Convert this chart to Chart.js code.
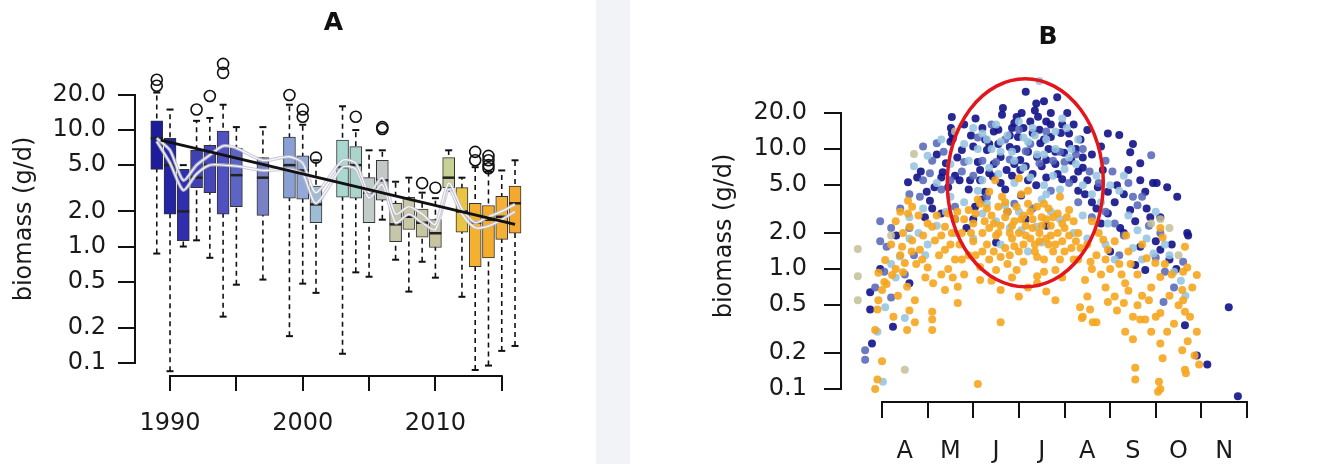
<!DOCTYPE html>
<html>
<head>
<meta charset="utf-8">
<script src="https://cdn.jsdelivr.net/npm/chart.js@4.4.1/dist/chart.umd.min.js"></script>
<style>
html,body{margin:0;padding:0;background:#fff;width:1339px;height:464px;overflow:hidden}
#band{position:absolute;left:596px;top:0;width:34px;height:464px;background:#f2f3f7}
#cA{position:absolute;left:0;top:0}
#cB{position:absolute;left:630px;top:0}
</style>
</head>
<body>
<div id="band"></div>
<canvas id="cA" width="596" height="464"></canvas>
<canvas id="cB" width="709" height="464"></canvas>
<script>
// ═══════════════════════════════════════════
// A: biomass per year (boxplots, log axis)
// ═══════════════════════════════════════════
const years=[1989,1990,1991,1992,1993,1994,1995,1997,1999,2000,2001,2003,2004,2005,2006,2007,2008,2009,2010,2011,2012,2013,2014,2015,2016];
const boxColors=['#1c1c9c','#2424a6','#2e2eae','#4040b6','#4646ba','#5050c0','#5c64c4','#7880c6','#8aa0d4','#94aad6','#9ebcd4','#a8d8d0','#acd4cc','#c0ccc8','#c4c8c4','#c6c6aa','#c8c8a4','#c6c6a2','#c8c4a0','#c8d094','#ecc444','#f4b030','#f4ac2c','#f4b038','#f4a830'];
const q3=[12.0,8.5,4.6,6.7,7.4,9.8,7.0,5.8,8.7,6.0,3.3,8.2,7.2,3.9,5.5,2.35,2.65,2.1,1.7,5.8,3.2,2.35,2.25,2.7,3.3];
const q1=[4.6,1.9,1.12,3.2,2.9,1.9,2.2,1.85,2.6,2.55,1.6,2.65,2.6,1.6,2.5,1.1,1.4,1.2,0.98,3.2,1.33,0.67,0.8,1.15,1.3];
const medians=[8.5,5.0,2.0,3.9,5.0,5.0,4.1,3.9,5.0,4.5,2.3,4.8,5.0,2.9,3.7,1.55,1.8,1.6,1.3,3.9,2.0,1.6,1.7,1.8,2.35];
const whiskHi=[21,15,5.0,12,12.7,16.5,10.6,10.6,16.5,11.1,5.5,16,10,6.7,6.7,3.6,3.9,2.9,2.6,6.7,3.9,4.8,4.4,4.5,5.5];
const whiskLo=[0.87,0.085,1.0,1.13,0.8,0.25,0.47,0.52,0.17,0.48,0.4,0.12,0.6,0.55,1.7,0.77,0.41,0.74,0.54,3.0,0.37,0.087,0.095,0.127,0.14];
const outYears=[1989,1989,1992,1993,1994,1994,1999,2000,2000,2001,2004,2006,2006,2009,2010,2013,2013,2014,2014,2014,2014];
const outVals=[27,24,15,19.6,37,31,20,15,13,5.8,13,10.6,10.2,3.5,3.2,6.5,5.5,6.0,5.5,5.0,4.7];
const smoothHi=[8.5,6.7,3.7,5.0,6.1,7.3,7.0,5.5,5.9,5.2,2.9,5.5,5.2,2.9,3.9,1.9,2.2,1.9,1.55,3.5,2.1,1.6,1.8,2.0,2.3];
const smoothLo=[8.0,5.2,3.05,4.2,5.0,5.0,4.9,4.5,4.6,4.2,2.35,4.8,4.6,2.6,3.4,1.6,1.9,1.6,1.4,3.1,1.9,1.45,1.5,1.7,2.0];
const trendYears=[1989.3,2016];
const trendVals=[8.2,1.55];
const yTickVals=[0.1,0.2,0.5,1,2,5,10,20];
const yTickText=['0.1','0.2','0.5','1.0','2.0','5.0','10.0','20.0'];
const yearTicks=[1990,1995,2000,2005,2010,2015];

// ═══════════════════════════════════════════
// B: biomass by month (points per year group)
// ═══════════════════════════════════════════
const monthTicks=[4,5,6,7,8,9,10,11,12];
const monthLetters=['A','M','J','J','A','S','O','N',''];
const navyPts=[[3.78,0.24],[3.74,0.64],[3.74,0.46],[3.96,1.0],[4.24,0.33],[4.31,1.9],[4.6,0.76],[4.57,5.3],[4.77,5.8],[4.98,4.4],[5.05,3.7],[5.2,9],[5.53,18.5],[5.51,15],[5.53,13.5],[5.5,11.5],[5.55,12.2],[5.75,9.8],[5.4,7.6],[5.33,6.4],[5.6,6.0],[5.1,3.2],[5.3,2.9],[5.6,2.6],[4.94,2.7],[5.45,4.8],[5.7,5.5],[5.9,4.6],[5.85,2.2],
 [6.26,12],[6.63,19.3],[6.85,15],[7.06,20],[7.38,24],[7.35,21],[7.84,27],[7.42,18.6],[6.9,16.5],[6.3,9.8],[6.6,8.6],[6.8,10.4],[6.98,12.6],[7.3,13.6],[7.47,11.2],[7.7,12.6],[7.92,13.6],[7.99,9.3],[7.6,8.1],[7.4,8.6],[7.03,8.1],[6.73,6.7],[6.15,6.7],[5.93,5.5],[6.15,5.5],[6.43,5.9],[7.38,5.0],[7.03,6.7],[6.0,2.6],[6.04,3.3],[6.26,4.4],[6.5,1.66],[8.06,20],[8.2,16],[7.6,17],[7.15,30],[7.55,25],[7.7,16],[6.45,14],[6.2,15],[6.0,10.5],[6.55,11],[6.95,10],[7.2,9.5],[7.5,7.2],[7.8,7.5],[8.1,11],[8.15,8],[8.3,6.5],[6.7,4.6],[7.2,5.5],[7.05,4.1],[6.1,7.8],[6.45,7.5],[6.9,7.5],[7.65,10],[7.85,6.2],
 [8.5,14.4],[8.95,13.5],[9.2,13.1],[9.44,9.4],[9.66,7.6],[9.4,6.7],[9.66,5.5],[9.94,5.2],[10.02,5.2],[10.25,4.8],[10.47,4.0],[9.77,4.4],[9.88,2.7],[9.66,1.53],[10.0,1.7],[9.77,0.98],[9.55,1.08],[9.22,2.2],[9.44,3.1],[10.69,2.0],[10.71,1.9],[10.64,0.34],[10.9,0.19],[11.13,0.16],[11.6,0.48],[11.8,0.087],[8.95,4.4],[8.73,4.8],[8.84,6.7],[8.6,9],[8.4,7],[8.5,5.5],[8.3,4.5],[8.7,3.2],[9.1,3.6],[9.3,2.0],[9.0,1.4],[8.8,2.4],[10.1,1.45],[10.3,1.2],[9.5,11],[8.8,10.5],
 [5.8,16],[5.65,8.5],[5.95,13],[6.05,18],[6.35,11],[6.55,14.5],[6.65,22],[6.8,13],[6.95,18.5],[7.1,15],[7.25,17],[7.45,14.5],[7.55,12],[7.7,20],[7.8,9.5],[7.95,16],[8.1,13.5],[8.25,10],[8.35,12],[8.4,8.5],[6.35,6.3],[6.6,5.2],[6.85,6],[7.15,7.2],[7.3,6.2],[7.6,5.8],[7.95,5.6],[8.2,5.6],[8.45,4.2],[8.6,3.6],[8.95,2.9],[9.15,5.0],[9.3,4.2],[9.55,2.5],[9.8,3.2],[10.1,2.7],[10.35,1.6],[10.45,1.0],[5.15,4.8],[5.3,5.8],[4.85,6.5],[6.2,3.8],[6.75,3.0],[7.15,2.6],[7.6,2.3]];
const midPts=[[3.63,0.21],[3.63,0.175],[3.96,2.5],[3.96,1.7],[4.1,1.53],[4.2,0.58],[5.2,11.2],[5.05,6.3],[4.83,4.0],[4.4,3.2],[4.6,2.2],[5.1,8],[4.9,10.5],[5.3,4.6],[5.6,3.3],[5.8,7.8],[6.1,12.5],[6.4,16],[6.7,12],[7.0,14.5],[7.25,11],[7.6,14],[7.9,9.5],[6.3,4.0],[6.9,3.5],[7.3,3.2],[7.7,4.5],[8.1,5.2],[8.3,3.6],[8.6,2.7],[8.9,3.0],[9.1,2.4],[9.3,1.9],[9.6,3.4],[9.85,2.3],[10.0,1.25],[10.17,0.53],[10.4,0.7],[9.9,8.9],[9.5,4.0],[8.4,10],[8.9,8],[6.2,8],[5.5,5.5],[4.7,1.3],[4.5,0.9],[3.85,0.7],[10.6,1.15],[10.2,0.95],[9.2,1.3],
 [5.35,9.5],[5.75,6.5],[6.0,6.0],[6.5,7.8],[6.8,8.2],[7.15,9.6],[7.45,7.6],[7.75,8],[8.0,7.8],[8.25,9],[8.55,6.5],[8.75,5.2],[9.05,6.5],[9.4,5.2],[9.7,4.0],[10.1,2.0],[4.9,5.5],[4.6,4.2],[4.2,2.2],[4.05,0.95]];
const lightPts=[[4.6,2.7],[4.39,1.27],[4.5,0.39],[4.02,0.115],[3.9,0.3],[4.07,0.48],[4.3,0.85],[4.8,2.0],[5.0,1.6],[4.9,3.2],[5.2,2.3],[5.4,3.0],[5.6,2.0],[5.8,3.6],[4.7,7.2],[5.0,8.8],[5.3,12],[5.8,11],[6.0,15],[6.2,13.5],[6.5,16],[6.75,13],[7.0,17],[7.3,15],[7.45,37],[7.6,12],[7.8,14],[7.95,18],[8.15,10],[6.35,7],[6.6,9.5],[6.9,8],[7.1,7],[7.4,9],[7.75,6],[8.0,6.8],[8.25,7.5],[6.2,2.9],[6.5,2.5],[6.8,2.2],[7.05,2.1],[7.38,2.25],[7.5,1.66],[7.7,3.0],[7.9,2.6],[6.0,1.8],[6.6,1.6],[7.2,1.4],[8.2,2.0],[8.4,2.8],[8.6,4.2],[8.8,3.6],[9.0,5.0],[9.2,4.5],[9.4,2.8],[9.6,2.1],[9.8,1.8],[10.0,3.0],[10.2,1.6],[10.4,0.95],[10.55,0.8],[10.65,0.6],[8.5,1.8],[8.9,1.6],[9.1,1.2],[9.7,1.2],[8.7,6],[9.3,6],[8.3,12],[5.5,7.5],[6.4,10],[7.2,11.5],[8.05,15],[6.1,4.5],[7.6,4.2],
 [5.9,8],[6.1,10],[6.3,12],[6.6,11.5],[6.85,9.5],[7.1,12.5],[7.35,13],[7.55,9],[7.8,10],[8.1,8.5],[8.4,5],[6.2,5.5],[6.55,6.2],[6.9,5.2],[7.25,5.8],[7.55,5.0],[7.9,4.6],[6.3,3.5],[6.7,3.4],[7.0,3.0],[7.5,3.8],[5.5,4.0],[5.2,5.2],[4.95,1.3],[4.6,1.8],[4.2,1.1],[9.5,1.5],[9.95,1.35],[10.3,1.3],[8.95,2.4]];
const khakiPts=[[3.47,1.47],[3.47,0.87],[3.47,0.55],[4.5,0.145],[4.7,9.1],[9.9,2.4],[10.1,2.6],[10.3,2.2],[4.2,1.9],[10.5,1.3],[5.6,14]];
const orangePts=[[3.85,0.1],[3.9,0.12],[4.0,0.17],[3.85,0.31],[3.9,0.46],[3.92,0.55],[4.0,0.67],[3.92,0.93],[4.07,1.19],[4.05,0.78],[4.22,0.89],[4.46,0.94],[4.55,0.71],[4.72,0.55],[4.72,0.36],[4.55,0.31],[5.1,0.44],[5.1,0.38],[5.1,0.31],[4.57,3.7],[4.66,3.3],[4.57,2.9],[4.61,2.25],[4.46,2.0],[4.66,1.73],[4.44,1.53],[4.5,1.12],[4.83,1.45],[4.88,1.2],[5.1,2.25],[5.16,1.73],[5.38,2.25],[5.38,1.45],[5.53,2.0],[5.6,1.2],[5.0,1.03],[5.12,0.76],[5.38,0.67],[5.66,0.71],[5.66,0.52],[4.3,2.5],[4.2,1.6],[4.35,0.6],[4.4,3.0],[4.8,2.8],[4.9,1.9],[5.25,1.3],[5.45,1.0],[5.7,1.6],[5.8,2.6],[5.9,1.3],[4.6,0.45],[4.25,0.4],[4.1,0.75],
 [6.48,5.5],[7.0,5.7],[6.35,4.4],[6.63,4.0],[7.05,4.2],[7.2,3.5],[7.55,3.5],[7.9,4.0],[8.1,3.1],[6.15,3.5],[5.9,3.1],[6.0,2.4],[6.2,2.0],[6.4,2.8],[6.6,2.3],[6.75,3.0],[6.9,2.5],[7.1,2.8],[7.3,2.2],[7.5,2.7],[7.7,2.3],[7.85,2.9],[8.0,2.2],[8.2,2.5],[6.3,1.6],[6.5,1.9],[6.7,1.5],[6.85,1.8],[7.0,1.4],[7.15,1.9],[7.35,1.6],[7.6,1.8],[7.75,1.4],[7.95,1.7],[8.15,1.5],[6.9,1.55],[6.6,1.26],[7.4,1.26],[6.15,1.04],[6.5,0.98],[6.95,0.98],[7.8,0.98],[7.4,0.87],[6.15,0.81],[6.6,0.67],[7.0,0.59],[7.8,0.55],[7.4,0.76],[6.6,0.36],[6.1,0.11],[8.4,0.4],[6.05,1.3],[6.35,2.2],[6.8,2.0],[7.25,3.0],[7.65,3.2],[8.05,2.7],[7.45,2.0],[6.55,3.3],[6.0,1.7],[5.8,0.9],[8.3,1.2],
 [8.5,0.59],[8.34,0.48],[8.38,0.39],[8.62,0.36],[8.7,0.36],[8.56,0.46],[8.95,0.53],[9.1,0.59],[9.33,0.76],[9.4,0.66],[9.3,0.52],[9.5,0.4],[9.66,0.38],[9.77,0.38],[9.33,0.3],[9.5,0.26],[9.55,0.15],[9.55,0.12],[9.9,0.3],[10.1,0.24],[10.15,0.18],[10.1,0.1],[10.05,0.095],[10.07,0.115],[10.1,0.43],[10.58,0.67],[10.6,0.55],[10.64,0.44],[10.58,0.21],[10.64,0.145],[10.66,0.135],[10.9,0.3],[10.9,0.89],[10.69,1.03],[10.64,1.53],[10.1,0.86],[9.99,1.12],[10.2,1.1],[10.1,2.2],[10.15,1.83],[9.8,1.23],[8.95,1.45],[9.1,1.7],[8.45,0.81],[8.57,1.15],[8.3,2.0],[8.5,1.6],[8.7,1.3],[8.8,0.9],[9.0,1.0],[9.2,1.1],[9.6,0.9],[9.7,0.6],[9.9,0.7],[10.3,0.6],[10.4,0.35],[10.7,0.25],[10.85,0.19],[10.95,0.16],[10.6,0.95],[8.9,0.7],[9.15,0.45],[8.75,2.0],[8.6,2.5],[9.4,1.4],
 [5.95,2.0],[6.05,2.9],[6.1,3.8],[6.25,2.5],[6.3,3.2],[6.45,1.4],[6.45,2.4],[6.55,2.0],[6.7,2.7],[6.7,3.6],[6.8,1.3],[6.85,2.3],[6.95,3.3],[7.0,2.0],[7.05,2.6],[7.1,1.6],[7.15,2.3],[7.2,4.5],[7.25,1.8],[7.3,2.6],[7.35,1.4],[7.4,3.3],[7.45,1.7],[7.5,2.3],[7.55,1.2],[7.6,2.6],[7.65,1.6],[7.7,1.9],[7.75,2.7],[7.8,1.6],[7.85,2.0],[7.9,1.2],[7.95,2.4],[8.0,1.4],[8.1,1.9],[8.2,1.2],[8.25,1.7],[8.35,1.5],[6.2,1.4],[6.35,1.2],[6.75,1.1],[7.1,1.15],[7.55,0.95],[7.2,0.7],[6.85,0.85],[7.95,0.85],[6.4,0.8],[7.6,0.65],[5.5,1.6],[5.6,2.6],[5.75,2.0],[5.3,1.9],[5.2,2.8],[5.0,2.4],[4.75,1.1],[4.95,0.85],[5.3,0.9],[5.55,0.85],[5.75,1.2],[4.4,1.3],[4.3,1.0],[4.65,1.4],[5.45,2.9],[5.65,3.0],[8.6,1.0],[8.9,1.2],[9.25,0.9],[9.45,1.1],[9.6,0.5],[9.85,0.55],[10.0,0.4],[10.25,0.3],[10.5,0.5],[10.35,0.9],[10.75,0.4],[10.8,0.7],[9.7,1.6],[9.35,1.9],[8.85,1.75]];
const ringMonths=[5.43,8.85];
const ringVals=[0.71,38.5];

Chart.defaults.font.family='DejaVu Sans';
Chart.defaults.color='#1a1a1a';

// R-style axis lines spanning only the tick range
const rAxes={id:'rAxes',afterDraw(c,a,o){
  const {ctx,chartArea:ca,scales:{x,y}}=c;
  ctx.save();ctx.strokeStyle='#111';ctx.lineWidth=2;
  ctx.beginPath();
  ctx.moveTo(x.getPixelForValue(o.x[0])-1,ca.bottom);ctx.lineTo(x.getPixelForValue(o.x[1])+1,ca.bottom);
  ctx.moveTo(ca.left,y.getPixelForValue(o.y[0])+1);ctx.lineTo(ca.left,y.getPixelForValue(o.y[1])-1);
  ctx.stroke();ctx.restore();
}};
const ring={id:'ring',afterDatasetsDraw(c,a,o){
  if(!o.x)return;
  const {ctx,scales:{x,y}}=c;
  const xa=x.getPixelForValue(o.x[0]),xb=x.getPixelForValue(o.x[1]);
  const ya=y.getPixelForValue(o.y[0]),yb=y.getPixelForValue(o.y[1]);
  ctx.save();ctx.strokeStyle='#e3161d';ctx.lineWidth=3.5;
  ctx.beginPath();ctx.ellipse((xa+xb)/2,(ya+yb)/2,Math.abs(xb-xa)/2,Math.abs(yb-ya)/2,0,0,Math.PI*2);ctx.stroke();
  ctx.restore();
}};

const tickFont={family:'DejaVu Sans',size:24};
const setTicks=vals=>s=>{s.ticks=vals.map(v=>({value:v}));};
const yLabel=v=>yTickText[yTickVals.indexOf(v)]||'';
const pts=(xs,ys)=>xs.map((x,i)=>({x,y:ys[i]}));

new Chart(document.getElementById('cA'),{
  type:'bar',
  data:{datasets:[
    {type:'line',data:pts(trendYears,trendVals),borderColor:'#111',borderWidth:3,pointRadius:0,order:0},
    {type:'line',data:pts(years,smoothHi),borderColor:'rgba(255,255,255,0.9)',borderWidth:1.3,pointRadius:0,tension:0.25,order:1},
    {type:'line',data:pts(years,smoothHi),borderColor:'rgba(190,190,205,0.8)',borderWidth:3.5,pointRadius:0,tension:0.25,order:2},
    {type:'line',data:pts(years,smoothLo),borderColor:'rgba(255,255,255,0.9)',borderWidth:1.3,pointRadius:0,tension:0.25,order:3},
    {type:'line',data:pts(years,smoothLo),borderColor:'rgba(190,190,205,0.8)',borderWidth:3.5,pointRadius:0,tension:0.25,order:4},
    {type:'scatter',data:pts(outYears,outVals),pointStyle:'circle',pointRadius:5.5,borderColor:'#111',backgroundColor:'rgba(255,255,255,0)',borderWidth:1.6,clip:false,order:5},
    {type:'scatter',data:pts(years,medians),pointStyle:'line',pointRadius:6,borderColor:'#222',borderWidth:2.5,order:6},
    {type:'scatter',data:years.flatMap((x,i)=>[{x,y:whiskLo[i]},{x,y:whiskHi[i]}]),pointStyle:'line',pointRadius:3.5,borderColor:'#111',borderWidth:2,clip:false,order:7},
    {type:'bar',data:years.map((x,i)=>({x,y:[q1[i],q3[i]]})),backgroundColor:boxColors,borderColor:'#333',borderWidth:1,borderSkipped:false,barThickness:12,order:8},
    {type:'line',data:years.flatMap((x,i)=>[{x,y:whiskLo[i]},{x,y:whiskHi[i]},{x,y:null}]),borderColor:'#111',borderWidth:1.6,borderDash:[5,4],pointRadius:0,spanGaps:false,clip:false,order:9}
  ]},
  options:{
    responsive:false,animation:false,devicePixelRatio:1,
    layout:{padding:{left:0,right:64,top:0,bottom:0}},
    plugins:{
      legend:{display:false},tooltip:{enabled:false},
      title:{display:true,text:'A',fullSize:false,color:'#111',font:{size:25,weight:'bold'},padding:{top:8,bottom:24}},
      rAxes:{x:[1990,2015],y:[0.1,20]}
    },
    scales:{
      x:{type:'linear',offset:false,min:1987.36,max:2017.28,afterBuildTicks:setTicks(yearTicks),
        ticks:{autoSkip:false,maxRotation:0,minRotation:0,padding:18,font:tickFont,callback:v=>(v%10===0?String(v):'')},
        grid:{offset:false,drawOnChartArea:false,tickLength:15,color:'#111',lineWidth:2},border:{display:false},
        afterFit:s=>{s.height=88;}},
      y:{type:'logarithmic',min:0.0773,max:38.4,afterBuildTicks:setTicks(yTickVals),
        ticks:{autoSkip:false,padding:12,font:tickFont,callback:yLabel},
        grid:{drawOnChartArea:false,tickLength:17,color:'#111',lineWidth:2},border:{display:false},
        title:{display:true,text:'biomass (g/d)',font:{size:24},padding:{top:10,bottom:0}},
        afterFit:s=>{s.width=135;}}
    }
  },
  plugins:[rAxes]
});

const dot=(data,color,order)=>({data:data.map(([x,y])=>({x,y})),backgroundColor:color,borderWidth:0,pointRadius:4,order});

new Chart(document.getElementById('cB'),{
  type:'scatter',
  data:{datasets:[
    dot(orangePts,'rgba(245,166,30,0.9)',0),
    dot(khakiPts,'rgba(196,192,150,0.85)',1),
    dot(lightPts,'rgba(150,196,224,0.88)',2),
    dot(midPts,'rgba(86,104,184,0.88)',3),
    dot(navyPts,'rgba(22,22,140,0.92)',4)
  ]},
  options:{
    responsive:false,animation:false,devicePixelRatio:1,
    layout:{padding:{left:68,right:84,top:0,bottom:0}},
    plugins:{
      legend:{display:false},tooltip:{enabled:false},
      title:{display:true,text:'B',fullSize:false,color:'#111',font:{size:25,weight:'bold'},padding:{top:22,bottom:18}},
      rAxes:{x:[4,12],y:[0.1,20]},
      ring:{x:ringMonths,y:ringVals}
    },
    scales:{
      x:{type:'linear',offset:false,min:3.101,max:12.175,afterBuildTicks:setTicks(monthTicks),
        ticks:{autoSkip:false,maxRotation:0,minRotation:0,padding:19,labelOffset:22.8,font:tickFont,callback:(v,i)=>monthLetters[i]},
        grid:{offset:false,drawOnChartArea:false,tickLength:16,color:'#111',lineWidth:2},border:{display:false},
        afterFit:s=>{s.height=62;}},
      y:{type:'logarithmic',min:0.0779,max:45.6,afterBuildTicks:setTicks(yTickVals),
        ticks:{autoSkip:false,padding:17,font:tickFont,callback:yLabel},
        grid:{drawOnChartArea:false,tickLength:17,color:'#111',lineWidth:2},border:{display:false},
        title:{display:true,text:'biomass (g/d)',font:{size:24},padding:{top:12,bottom:0}},
        afterFit:s=>{s.width=143;}}
    }
  },
  plugins:[rAxes,ring]
});
</script>
</body>
</html>
